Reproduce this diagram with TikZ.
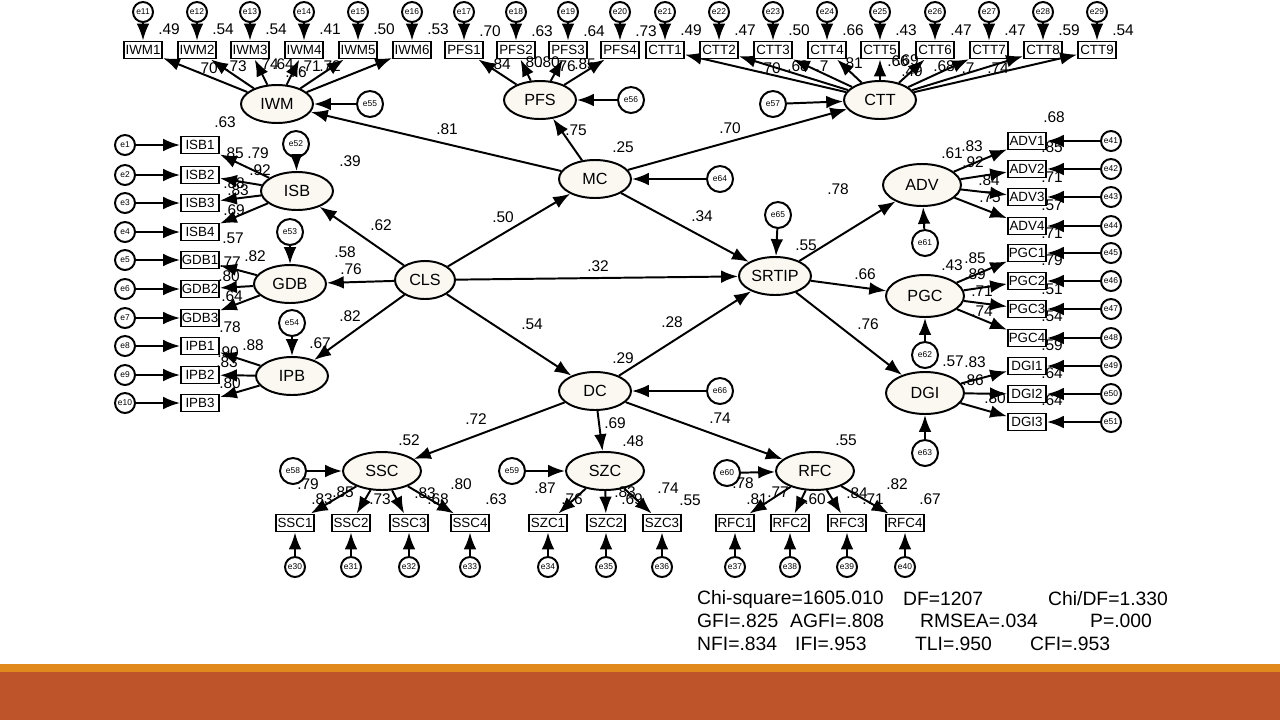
\documentclass[tikz,border=0pt]{standalone}
\usepackage{fontspec}
\setmainfont{Liberation Sans}
\usetikzlibrary{shapes.geometric,arrows.meta}
\definecolor{lat}{HTML}{FBF8F2}
\definecolor{band1}{HTML}{E2891E}
\definecolor{band2}{HTML}{BE5429}
\tikzset{
 lv/.style={ellipse,draw,line width=2.8pt,fill=lat,minimum width=3.6cm,minimum height=1.9cm,inner sep=0pt,font=\fontsize{23}{24}\selectfont},
 ov/.style={rectangle,draw,line width=2.8pt,fill=white,minimum width=1.9cm,minimum height=0.85cm,inner sep=1pt,font=\fontsize{19}{20}\selectfont},
 er/.style={circle,draw,line width=2.8pt,fill=white,minimum size=1cm,inner sep=0pt,font=\fontsize{12}{13}\selectfont},
 erb/.style={circle,draw,line width=2.8pt,fill=white,minimum size=1.3cm,inner sep=0pt,font=\fontsize{12}{13}\selectfont},
 arr/.style={line width=2.8pt,-{Latex[length=24pt,width=18pt]}},
 lb/.style={font=\fontsize{22}{23}\selectfont,inner sep=0pt},
 st/.style={font=\fontsize{27.5}{29}\selectfont,anchor=west,inner sep=0pt}
}
\begin{document}
\begin{tikzpicture}[x=0.05cm,y=-0.05cm]
\useasboundingbox (0,0) rectangle (1280,720);
\fill[band1] (0,664) rectangle (1280,672);
\fill[band2] (0,672) rectangle (1280,720);
% latent
\node[lv] (IWM) at (277,104) {IWM};
\node[lv] (PFS) at (540,100) {PFS};
\node[lv] (CTT) at (880,100) {CTT};
\node[lv] (MC) at (595,179) {MC};
\node[lv] (ISB) at (297,191) {ISB};
\node[lv] (GDB) at (290,284) {GDB};
\node[lv,minimum width=3.0cm] (CLS) at (425,280) {CLS};
\node[lv] (IPB) at (292,376) {IPB};
\node[lv] (SRTIP) at (775,276) {SRTIP};
\node[lv,minimum width=3.9cm,minimum height=2.1cm] (ADV) at (922,185) {ADV};
\node[lv,minimum width=3.9cm,minimum height=2.1cm] (PGC) at (925,296) {PGC};
\node[lv,minimum width=3.9cm,minimum height=2.1cm] (DGI) at (925,393) {DGI};
\node[lv] (DC) at (595,391) {DC};
\node[lv,minimum width=3.9cm] (SSC) at (382,471) {SSC};
\node[lv,minimum width=3.9cm] (SZC) at (605,471) {SZC};
\node[lv,minimum width=3.9cm] (RFC) at (815,471) {RFC};
% structural
\draw[arr] (MC) -- (IWM);
\draw[arr] (MC) -- (PFS);
\draw[arr] (MC) -- (CTT);
\draw[arr] (CLS) -- (MC);
\draw[arr] (CLS) -- (ISB);
\draw[arr] (CLS) -- (GDB);
\draw[arr] (CLS) -- (IPB);
\draw[arr] (CLS) -- (SRTIP);
\draw[arr] (CLS) -- (DC);
\draw[arr] (MC) -- (SRTIP);
\draw[arr] (DC) -- (SRTIP);
\draw[arr] (SRTIP) -- (ADV);
\draw[arr] (SRTIP) -- (PGC);
\draw[arr] (SRTIP) -- (DGI);
\draw[arr] (DC) -- (SSC);
\draw[arr] (DC) -- (SZC);
\draw[arr] (DC) -- (RFC);
% structural errors
\foreach \n/\x/\y/\t in {e55/370/104/IWM,e56/631/100/PFS,e57/773/104/CTT,e64/720/179/MC,e52/296/144/ISB,e53/290/232/GDB,e54/292/323/IPB,e65/778/215/SRTIP,e61/925/243/ADV,e62/925/355/PGC,e63/925/453/DGI,e66/720/391/DC,e58/293/471/SSC,e59/512/471/SZC,e60/727/473/RFC}{
 \node[erb] (\n) at (\x,\y) {\n};
 \draw[arr] (\n) -- (\t);
}
% top indicators
\foreach \i/\x/\r in {1/143/.49,2/197/.54,3/250/.54,4/304/.41,5/358/.50,6/412/.53}{
 \pgfmathtruncatemacro\e{10+\i}
 \node[ov] (IWM\i) at (\x,50) {IWM\i};
 \node[er] (e\e) at (\x,12) {e\e};
 \draw[arr] (e\e) -- (IWM\i);
 \draw[arr] (IWM) -- (IWM\i);
 \node[lb] at (\x+26,29) {\r};
}
\foreach \i/\x/\r in {1/464/.70,2/516/.63,3/568/.64,4/620/.73}{
 \pgfmathtruncatemacro\e{16+\i}
 \node[ov] (PFS\i) at (\x,50) {PFS\i};
 \node[er] (e\e) at (\x,12) {e\e};
 \draw[arr] (e\e) -- (PFS\i);
 \draw[arr] (PFS) -- (PFS\i);
 \node[lb] at (\x+26,31) {\r};
}
\foreach \i/\x/\r in {1/665/.49,2/719/.47,3/773/.50,4/827/.66,5/880/.43,6/935/.47,7/989/.47,8/1043/.59,9/1097/.54}{
 \pgfmathtruncatemacro\e{20+\i}
 \node[ov] (CTT\i) at (\x,50) {CTT\i};
 \node[er] (e\e) at (\x,12) {e\e};
 \draw[arr] (e\e) -- (CTT\i);
 \draw[arr] (CTT) -- (CTT\i);
 \node[lb] at (\x+26,30) {\r};
}
% left indicators
\foreach \n/\y/\e/\L in {ISB1/145/1/ISB,ISB2/175/2/ISB,ISB3/203/3/ISB,ISB4/232/4/ISB,GDB1/260/5/GDB,GDB2/289/6/GDB,GDB3/318/7/GDB,IPB1/346/8/IPB,IPB2/375/9/IPB,IPB3/403/10/IPB}{
 \node[ov] (\n) at (200,\y) {\n};
 \node[er] (e\e) at (125,\y) {e\e};
 \draw[arr] (e\e) -- (\n);
 \draw[arr] (\L) -- (\n);
}
% right indicators
\foreach \n/\y/\e/\L in {ADV1/141/41/ADV,ADV2/169/42/ADV,ADV3/197/43/ADV,ADV4/226/44/ADV,PGC1/253/45/PGC,PGC2/281/46/PGC,PGC3/309/47/PGC,PGC4/338/48/PGC,DGI1/366/49/DGI,DGI2/394/50/DGI,DGI3/422/51/DGI}{
 \node[ov] (\n) at (1027,\y) {\n};
 \node[er] (e\e) at (1111,\y) {e\e};
 \draw[arr] (e\e) -- (\n);
 \draw[arr] (\L) -- (\n);
}
% bottom indicators
\foreach \n/\x/\e/\L in {SSC1/295/30/SSC,SSC2/351/31/SSC,SSC3/409/32/SSC,SSC4/470/33/SSC,SZC1/548/34/SZC,SZC2/606/35/SZC,SZC3/662/36/SZC,RFC1/735/37/RFC,RFC2/790/38/RFC,RFC3/847/39/RFC,RFC4/905/40/RFC}{
 \node[ov] (\n) at (\x,523) {\n};
 \node[er] (e\e) at (\x,567) {e\e};
 \draw[arr] (e\e) -- (\n);
 \draw[arr] (\L) -- (\n);
}
% path labels
\foreach \x/\y/\t in {447/129/.81,576/130/.75,623/147/.25,730/128/.70,503/217/.50,381/225/.62,351/269/.76,598/266/.32,702/216/.34,806/245/.55,350/316/.82,320/343/.67,532/324/.54,672/322/.28,623/358/.29,476/419/.72,615/423/.69,720/418/.74,409/440/.52,633/441/.48,846/440/.55,838/189/.78,865/274/.66,868/324/.76,350/161/.39,345/252/.58,225/122/.63,952/153/.61,952/265/.43,953/361/.57,1054/117/.68}{
 \node[lb] at (\x,\y) {\t};
}
% loadings
\foreach \x/\y/\t in {207/68/.70,236/66/.73,268/64/.74,283/64/.64,296/72/.76,310/66/.71,330/66/.72,
500/64/.84,532/62/.80,549/62/.80,565/66/.76,585/64/.85,
770/68/.70,798/66/.68,822/66/.7,852/63/.81,898/61/.66,908/60/.69,912/71/.49,944/66/.68,968/68/.7,998/68/.74,
233/153/.85,258/153/.79,260/170/.92,234/183/.88,238/190/.83,234/210/.69,233/238/.57,
255/256/.82,230/262/.77,229/276/.80,232/296/.64,230/327/.78,
253/345/.88,228/352/.90,227/362/.83,230/383/.80,
972/146/.83,973/162/.92,989/180/.84,990/197/.75,1052/147/.85,1052/177/.71,1052/205/.57,1052/233/.71,
975/258/.85,975/274/.89,982/291/.71,982/311/.74,1052/260/.79,1052/289/.51,1052/316/.54,1052/345/.59,
975/362/.83,973/380/.86,995/398/.80,1052/373/.64,1052/400/.64,
308/484/.79,322/499/.83,343/492/.85,380/499/.73,425/493/.83,438/499/.68,461/484/.80,496/499/.63,
545/488/.87,572/499/.76,625/492/.83,632/499/.69,668/488/.74,690/500/.55,
743/483/.78,757/499/.81,778/492/.77,815/499/.60,857/493/.84,873/499/.71,897/484/.82,930/499/.67}{
 \node[lb] at (\x,\y) {\t};
}
% fit statistics
\node[st] (s1) at (697,599) {Chi-square=1605.010};
\node[st] (s2) at (903,599) {DF=1207};
\node[st] (s3) at (1048,599) {Chi/DF=1.330};
\node[st] (s4) at (697,621) {GFI=.825};
\node[st] (s5) at (790,621) {AGFI=.808};
\node[st] (s6) at (920,621) {RMSEA=.034};
\node[st] (s7) at (1090,621) {P=.000};
\node[st] (s8) at (697,644) {NFI=.834};
\node[st] (s9) at (795,644) {IFI=.953};
\node[st] (s10) at (915,644) {TLI=.950};
\node[st] (s11) at (1030,644) {CFI=.953};
\end{tikzpicture}
\end{document}
